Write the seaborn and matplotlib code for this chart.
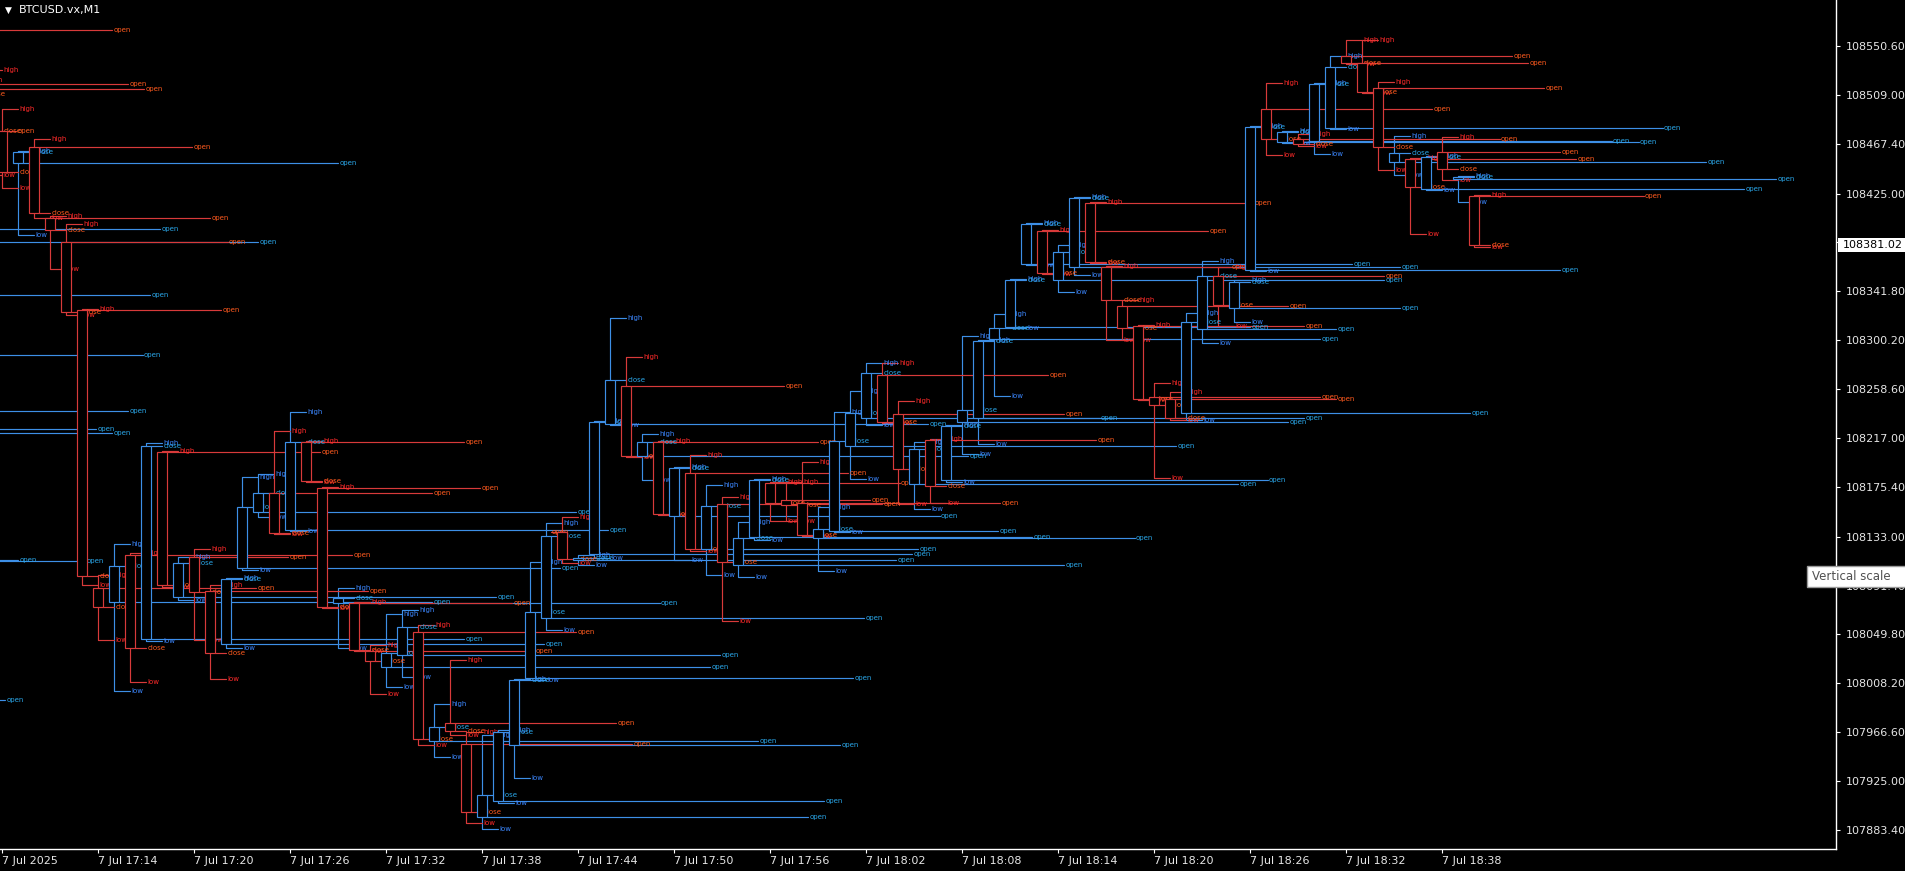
import numpy as np
import pandas as pd
import matplotlib
matplotlib.use("Agg")
import matplotlib.pyplot as plt
from matplotlib.patches import Rectangle
import seaborn as sns

# ---------------- data (BTCUSD.vx, M1, minute index from 17:08) ----------------
minutes = list(range(-13, 93))

opens = [107994.0, 108113.2, 108112.3, 108224.7, 108221.3, 108240.0, 108287.6, 108338.7,
         108564.2, 108394.9, 108383.8, 108518.3, 108514.0,
         108478.3, 108451.0, 108464.7, 108404.2, 108383.8, 108325.9, 108089.4, 108077.4,
         108117.4, 108046.0, 108205.1, 108081.7, 108115.7, 108086.8, 108041.7, 108106.4,
         108154.0, 108170.2, 108138.7, 108213.6, 108174.5, 108076.6, 108076.6, 108035.7,
         108022.1, 108032.3, 108051.9, 107959.2, 107974.5, 107956.6, 107894.5, 107908.1,
         107955.8, 108012.8, 108063.8, 108137.0, 108113.2, 108118.3, 108228.9, 108261.3,
         108201.7, 108213.6, 108150.6, 108187.2, 108122.6, 108160.9, 108108.9, 108132.8,
         108178.7, 108164.3, 108161.7, 108131.9, 108137.9, 108210.2, 108234.0, 108270.6,
         108237.4, 108177.9, 108215.3, 108181.3, 108230.6, 108234.0, 108301.3, 108311.5,
         108365.1, 108393.2, 108351.5, 108362.5, 108417.0, 108362.5, 108329.3, 108312.3,
         108251.9, 108250.2, 108238.3, 108309.8, 108354.9, 108327.6, 108360.0, 108497.0,
         108468.9, 108471.5, 108469.8, 108480.8, 108542.1, 108536.1, 108514.9, 108451.9,
         108454.4, 108428.9, 108460.4, 108437.4, 108423.0]

highs = [107999.0, 108118.0, 108117.0, 108230.0, 108227.0, 108246.0, 108293.0, 108344.0,
         108568.0, 108400.0, 108389.0, 108522.0, 108530.2,
         108497.0, 108461.0, 108471.5, 108406.0, 108399.1, 108327.0, 108100.4, 108126.8,
         108119.2, 108212.8, 108206.0, 108115.7, 108122.6, 108091.9, 108098.0, 108183.8,
         108186.4, 108223.0, 108239.1, 108214.5, 108175.5, 108089.4, 108077.5, 108040.9,
         108067.2, 108070.6, 108057.9, 107990.6, 108028.1, 107966.8, 107964.3, 107968.5,
         108012.0, 108111.5, 108144.7, 108149.8, 108117.4, 108231.5, 108319.1, 108285.9,
         108220.4, 108214.5, 108192.4, 108202.5, 108177.0, 108166.8, 108145.5, 108182.2,
         108179.6, 108179.6, 108196.6, 108158.3, 108239.1, 108257.0, 108280.8, 108280.8,
         108248.5, 108213.6, 108216.2, 108228.1, 108303.8, 108300.5, 108322.5, 108352.4,
         108400.0, 108394.1, 108381.3, 108422.2, 108417.9, 108363.4, 108334.5, 108313.2,
         108263.8, 108256.2, 108323.4, 108367.6, 108362.5, 108351.5, 108482.6, 108519.1,
         108478.3, 108475.7, 108519.2, 108542.1, 108555.7, 108555.7, 108520.0, 108474.0,
         108455.3, 108457.0, 108473.2, 108440.0, 108423.9]

lows = [107990.0, 108110.0, 108109.0, 108221.0, 108218.0, 108237.0, 108284.0, 108335.0,
        108555.0, 108391.0, 108380.0, 108505.0, 108440.8,
        108429.8, 108389.8, 108404.2, 108360.8, 108322.0, 108091.9, 108045.1, 108001.7,
        108009.4, 108044.0, 108090.2, 108079.2, 108045.1, 108011.9, 108038.3, 108105.0,
        108149.8, 108135.0, 108137.5, 108179.5, 108072.0, 108038.3, 108035.5, 107999.2,
        108005.1, 108013.6, 107955.8, 107945.5, 107964.3, 107889.4, 107884.3, 107906.4,
        107927.7, 108011.1, 108053.6, 108110.6, 108108.9, 108114.9, 108228.0, 108200.7,
        108181.3, 108151.3, 108113.2, 108121.0, 108100.4, 108061.3, 108098.7, 108130.2,
        108146.4, 108146.4, 108133.5, 108103.8, 108137.0, 108182.1, 108228.0, 108229.6,
        108160.9, 108156.6, 108161.7, 108179.6, 108203.4, 108211.9, 108252.8, 108310.5,
        108364.1, 108356.4, 108341.3, 108355.7, 108365.8, 108300.4, 108300.4, 108249.2,
        108183.0, 108232.3, 108232.3, 108297.9, 108312.3, 108315.7, 108359.0, 108457.8,
        108468.0, 108465.5, 108458.7, 108479.8, 108535.2, 108510.5, 108445.1, 108440.8,
        108390.6, 108428.1, 108436.6, 108417.9, 108379.4]

closes = [107997.0, 108116.0, 108115.0, 108228.0, 108225.0, 108244.0, 108291.0, 108342.0,
          108558.0, 108398.0, 108387.0, 108509.8, 108478.0,
          108443.4, 108460.4, 108408.5, 108394.0, 108324.2, 108099.6, 108073.2, 108108.1,
          108038.3, 108210.2, 108091.9, 108110.6, 108086.0, 108034.0, 108097.0, 108158.3,
          108170.2, 108136.2, 108213.6, 108180.4, 108073.2, 108080.9, 108036.6, 108027.2,
          108034.0, 108056.2, 107960.9, 107971.1, 107967.7, 107898.7, 107913.2, 107966.8,
          108011.1, 108068.9, 108133.6, 108114.0, 108114.9, 108230.6, 108266.4, 108201.7,
          108213.6, 108152.3, 108191.5, 108122.6, 108159.1, 108111.5, 108131.9, 108181.3,
          108161.7, 108160.0, 108134.5, 108139.6, 108214.5, 108238.3, 108272.3, 108230.6,
          108190.6, 108207.7, 108176.2, 108227.2, 108240.8, 108299.6, 108310.6, 108351.5,
          108399.1, 108357.4, 108375.3, 108421.3, 108366.8, 108334.5, 108310.6, 108250.2,
          108245.1, 108234.0, 108315.7, 108354.9, 108330.2, 108349.8, 108481.7, 108471.5,
          108477.4, 108467.2, 108518.3, 108532.7, 108536.1, 108511.5, 108464.7, 108459.6,
          108430.6, 108456.1, 108445.9, 108439.1, 108381.0]

# minute at which each candle's "open" line ends
open_ends = [0.2, 1.0, 5.2, 5.9, 6.9, 7.9, 8.8, 9.25, 6.9, 9.9, 16.0, 7.9, 8.9,
             0.9, 21.0, 11.9, 13.0, 14.1, 13.7, 15.9, 26.9, 21.9, 28.9, 19.9, 30.9,
             17.9, 22.9, 33.9, 34.9, 35.9, 26.9, 37.9, 28.9, 29.9, 41.1, 31.9, 33.25,
             44.25, 44.9, 35.9, 47.25, 38.4, 39.4, 50.4, 51.4, 52.4, 53.2, 53.9, 34.3,
             55.9, 56.9, 57.9, 48.9, 60.4, 51.0, 58.6, 52.9, 57.25, 55.0, 66.4, 64.4,
             56.1, 54.25, 62.4, 70.8, 62.25, 73.4, 68.6, 65.4, 66.4, 77.25, 68.4, 79.1,
             80.4, 81.4, 82.4, 78.0, 84.4, 75.4, 86.4, 87.4, 78.2, 76.75, 80.4, 81.4,
             82.4, 83.4, 91.75, 83.4, 86.4, 87.4, 97.4, 89.4, 102.3, 93.6, 100.6, 103.8,
             94.4, 95.4, 96.4, 106.5, 98.4, 108.9, 97.4, 110.9, 102.6]

time_ticks = [0, 6, 12, 18, 24, 30, 36, 42, 48, 54, 60, 66, 72, 78, 84, 90]
time_labels = ["7 Jul 2025", "7 Jul 17:14", "7 Jul 17:20", "7 Jul 17:26", "7 Jul 17:32",
               "7 Jul 17:38", "7 Jul 17:44", "7 Jul 17:50", "7 Jul 17:56", "7 Jul 18:02",
               "7 Jul 18:08", "7 Jul 18:14", "7 Jul 18:20", "7 Jul 18:26", "7 Jul 18:32",
               "7 Jul 18:38"]

price_ticks = [108550.60, 108509.00, 108467.40, 108425.00, 108383.40, 108341.80, 108300.20,
               108258.60, 108217.00, 108175.40, 108133.00, 108091.40, 108049.80, 108008.20,
               107966.60, 107925.00, 107883.40]
price_labels = ["%.2f" % p for p in price_ticks]
last_price = 108381.02

# ---------------- style ----------------
BLUE_LINE, RED_LINE = "#3d8fe6", "#d83a3a"
BLUE_HL, RED_HL = "#3c87ff", "#ff2a2a"
BLUE_OC, RED_OC = "#2aa6e8", "#ff5a1e"

sns.set_theme(style="dark", rc={"axes.facecolor": "black", "figure.facecolor": "black",
                                "axes.grid": False})
plt.rcParams["font.family"] = ["DejaVu Sans"]

W, H = 1906, 871
fig = plt.figure(figsize=(W / 100, H / 100), dpi=100)
fig.patch.set_facecolor("black")
ax = fig.add_axes([0, 22 / H, 1836 / W, 849 / H])
ax.set_facecolor("black")

HW = 5 / 16.0   # half body width in minutes
TK = 1.0        # tick length in minutes

rows = []
seg = 0
for m, o, h, l, c, e in zip(minutes, opens, highs, lows, closes, open_ends):
    d = "bull" if c >= o else "bear"
    for pts in (((m, h), (m, l)), ((m, h), (m + TK, h)), ((m, l), (m + TK, l)),
                ((m + HW, c), (m + TK, c)), ((m + HW, o), (e, o))):
        for (x, y) in pts:
            rows.append({"x": x, "y": y, "seg": seg, "dir": d})
        seg += 1
df = pd.DataFrame(rows)

sns.lineplot(data=df, x="x", y="y", hue="dir", units="seg", estimator=None, sort=False,
             palette={"bull": BLUE_LINE, "bear": RED_LINE}, legend=False,
             linewidth=0.85, ax=ax, zorder=2)

# labels
for m, o, h, l, c, e in zip(minutes, opens, highs, lows, closes, open_ends):
    bull = c >= o
    hl = BLUE_HL if bull else RED_HL
    oc = BLUE_OC if bull else RED_OC
    kw = dict(fontsize=5, va="center", ha="left", zorder=3, clip_on=True)
    ax.text(m + TK + 0.08, h, "high", color=hl, **kw)
    ax.text(m + TK + 0.08, l, "low", color=hl, **kw)
    ax.text(m + TK + 0.08, c, "close", color=oc, **kw)
    ax.text(e + 0.08, o, "open", color=oc, **kw)

# bodies (black filled, drawn over lines)
bottoms = [min(o, c) for o, c in zip(opens, closes)]
heights = [max(abs(c - o), 0.3) for o, c in zip(opens, closes)]
edgecols = [BLUE_LINE if c >= o else RED_LINE for o, c in zip(opens, closes)]
ax.bar(minutes, heights, bottom=bottoms, width=2 * HW, color="black",
       edgecolor=edgecols, linewidth=0.85, zorder=4)

ax.set_xlim(-0.125, 114.625)
ax.set_ylim(107867.2, 108589.75)

# axes
ax.set_xlabel("")
ax.set_ylabel("")
for s in ("left", "top"):
    ax.spines[s].set_visible(False)
for s in ("right", "bottom"):
    ax.spines[s].set_visible(True)
    ax.spines[s].set_color("white")
    ax.spines[s].set_linewidth(1.0)

ax.yaxis.tick_right()
ax.set_yticks(price_ticks)
ax.set_yticklabels(price_labels)
ax.set_xticks(time_ticks)
ax.set_xticklabels(time_labels)
for lbl in ax.get_xticklabels():
    lbl.set_horizontalalignment("left")
ax.tick_params(axis="y", colors="white", labelcolor="#e6e6e6", length=3, width=0.8,
               labelsize=8, pad=4, direction="out", right=True, left=False)
ax.tick_params(axis="x", colors="white", labelcolor="#e6e6e6", length=3, width=0.8,
               labelsize=8, pad=2, direction="out", bottom=True)

# title
fig.text(5 / W, 1 - 10 / H, "\u25bc", color="white", fontsize=6.5, va="center", ha="left")
fig.text(19 / W, 1 - 10 / H, "BTCUSD.vx,M1", color="white", fontsize=8, va="center", ha="left")

# current price label
fig.add_artist(Rectangle((1838 / W, 1 - 252 / H), (W - 1838) / W, 14 / H,
                         transform=fig.transFigure, facecolor="white", edgecolor="none",
                         zorder=10))
fig.text(1843 / W, 1 - 245 / H, "%.2f" % last_price, color="black", fontsize=8,
         va="center", ha="left", zorder=11)

# tooltip
fig.add_artist(Rectangle((1807 / W, 1 - 587 / H), (W - 1807) / W, 21 / H,
                         transform=fig.transFigure, facecolor="white",
                         edgecolor="#9a9a9a", linewidth=1, zorder=10))
fig.text(1812 / W, 1 - 576.5 / H, "Vertical scale", color="#505050", fontsize=8.5,
         va="center", ha="left", zorder=11)

fig.savefig("out.png", dpi=100, facecolor="black")
